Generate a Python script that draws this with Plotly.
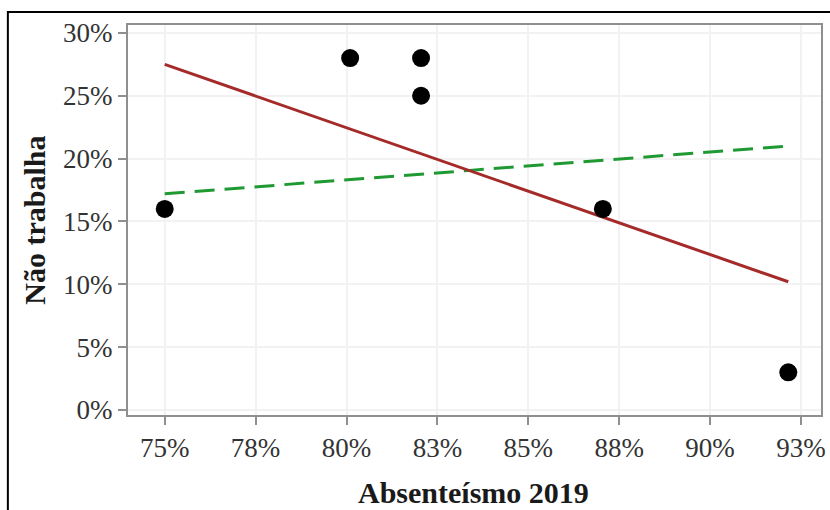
import plotly.graph_objects as go

# Data
absenteismo = [0.75, 0.801, 0.8205, 0.8205, 0.8705, 0.9215]
nao_trabalha = [0.16, 0.28, 0.28, 0.25, 0.16, 0.03]

fit_x = [0.75, 0.9215]
fit_red_y = [0.275, 0.102]
fit_green_y = [0.172, 0.210]

x_tickvals = [0.75, 0.775, 0.80, 0.825, 0.85, 0.875, 0.90, 0.925]
x_ticktext = ["75%", "78%", "80%", "83%", "85%", "88%", "90%", "93%"]
y_tickvals = [0, 0.05, 0.10, 0.15, 0.20, 0.25, 0.30]
y_ticktext = ["0%", "5%", "10%", "15%", "20%", "25%", "30%"]

FONT = "Liberation Serif, Times New Roman, serif"
AXIS_GRAY = "#8f8f8f"

fig = go.Figure()
fig.add_trace(go.Scatter(x=fit_x, y=fit_green_y, mode="lines",
                         line=dict(color="#1f9a33", width=3, dash="20px,10px"),
                         showlegend=False, hoverinfo="skip"))
fig.add_trace(go.Scatter(x=fit_x, y=fit_red_y, mode="lines",
                         line=dict(color="#a52a2a", width=3),
                         showlegend=False, hoverinfo="skip"))
fig.add_trace(go.Scatter(x=absenteismo, y=nao_trabalha, mode="markers",
                         marker=dict(color="black", size=18),
                         showlegend=False))

fig.update_layout(
    width=830, height=510,
    margin=dict(l=128, r=4, t=25, b=95),
    paper_bgcolor="white", plot_bgcolor="white",
    font=dict(family=FONT, color="#333333", size=27),
    xaxis=dict(range=[0.7399, 0.9305], tickvals=x_tickvals, ticktext=x_ticktext,
               showgrid=True, gridcolor="#f2f2f2", gridwidth=1.5, zeroline=False,
               showline=True, mirror=True, linecolor=AXIS_GRAY, linewidth=2,
               ticks="outside", ticklen=8, tickwidth=1.5, tickcolor=AXIS_GRAY,
               tickfont=dict(size=27, color="#333333", family=FONT)),
    yaxis=dict(range=[-0.004, 0.3063], tickvals=y_tickvals, ticktext=y_ticktext,
               showgrid=True, gridcolor="#f2f2f2", gridwidth=1.5, zeroline=False,
               showline=True, mirror=True, linecolor=AXIS_GRAY, linewidth=2,
               ticks="outside", ticklen=8, tickwidth=1.5, tickcolor=AXIS_GRAY,
               tickfont=dict(size=27, color="#333333", family=FONT)),
    shapes=[dict(type="rect", xref="paper", yref="paper",
                 x0=(7 - 128) / 698, x1=1.2, y0=-0.5, y1=(415 - 12) / 390,
                 line=dict(color="black", width=2), fillcolor="rgba(0,0,0,0)",
                 layer="above")],
    annotations=[
        dict(text="<b>Absenteísmo 2019</b>", xref="paper", yref="paper",
             x=(476 - 128) / 698, y=(415 - 492) / 390, xanchor="center", yanchor="middle",
             showarrow=False, font=dict(family=FONT, size=30, color="#1a1a1a")),
        dict(text="<b>Não trabalha</b>", xref="paper", yref="paper",
             x=(33 - 128) / 698, y=(415 - 220) / 390, xanchor="center", yanchor="middle",
             textangle=-90, showarrow=False, font=dict(family=FONT, size=30, color="#1a1a1a")),
    ],
)

fig.write_html("out.html")
